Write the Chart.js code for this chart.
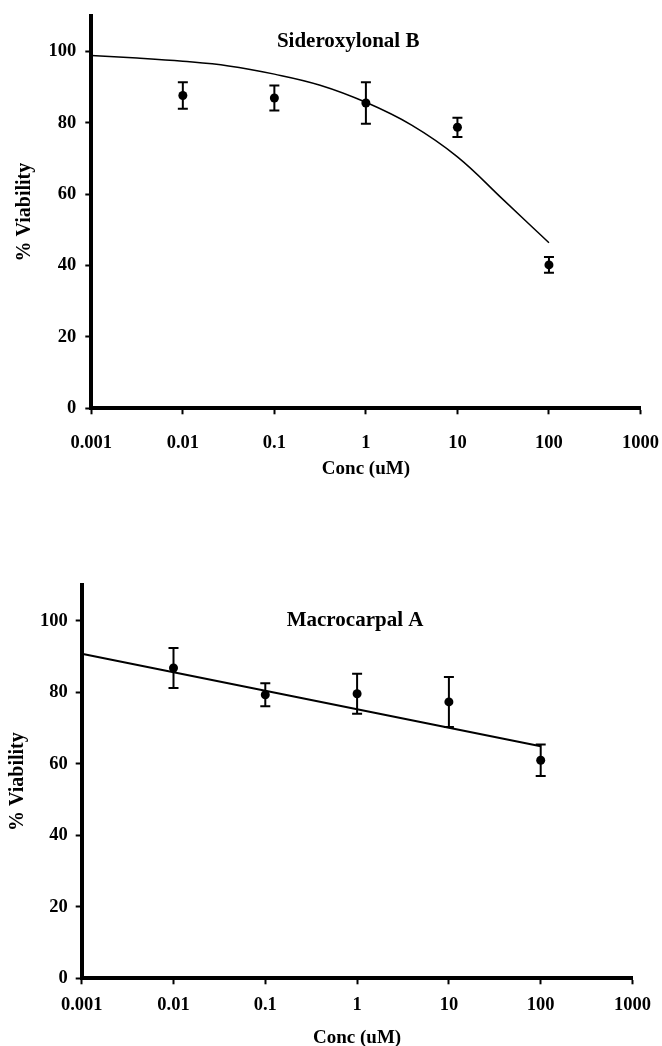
<!DOCTYPE html>
<html><head><meta charset="utf-8">
<script src="https://cdn.jsdelivr.net/npm/chart.js@4.4.1/dist/chart.umd.min.js"></script>
<style>
html,body{margin:0;padding:0;background:#fff;overflow:hidden;width:662px;height:1046px;position:relative}
canvas{position:absolute;left:0}
</style></head><body>
<canvas id="c1" width="662" height="500" style="top:0px"></canvas>
<canvas id="c2" width="662" height="540" style="top:520px"></canvas>
<script>
// ---- data ----
const xTickValues = [0.001, 0.01, 0.1, 1, 10, 100, 1000];
const xTickLabels = ['0.001', '0.01', '0.1', '1', '10', '100', '1000'];
const yTickValues = [0, 20, 40, 60, 80, 100];
const conc = [0.01, 0.1, 1, 10, 100];

const sidTitle = 'Sideroxylonal B';
const sidMean = [87.7, 87.0, 85.6, 78.8, 40.2];
const sidErr  = [3.7, 3.5, 5.8, 2.7, 2.2];
const sidFitX = [0.001, 0.00316, 0.01, 0.0316, 0.1, 0.316, 1, 3.16, 10, 31.6, 100];
const sidFitY = [98.9, 98.2, 97.3, 96.0, 93.7, 90.6, 85.8, 79.4, 70.5, 58.5, 46.4];

const macTitle = 'Macrocarpal A';
const macMean = [86.8, 79.3, 79.6, 77.3, 61.0];
const macErr  = [5.6, 3.2, 5.6, 7.0, 4.4];
const macFitX = [0.001, 100];
const macFitY = [90.8, 64.9];

const xTitle = 'Conc (uM)';
const yTitle = '% Viability';

Chart.defaults.color = '#000';
Chart.defaults.font.family = '"Liberation Serif", "Times New Roman", serif';
Chart.defaults.font.weight = 'bold';

const errorBars = {
  id: 'errorBars',
  afterDatasetsDraw(chart, args, opts) {
    const ds = chart.data.datasets[1];
    const xs = chart.scales.x, ys = chart.scales.y, ctx = chart.ctx;
    ctx.save();
    ctx.strokeStyle = '#000';
    ctx.lineWidth = opts.lineWidth;
    ds.data.forEach((p, i) => {
      const e = ds.errors[i];
      const x = xs.getPixelForValue(p.x);
      const y1 = ys.getPixelForValue(p.y + e), y2 = ys.getPixelForValue(p.y - e);
      const c = opts.cap;
      ctx.beginPath();
      ctx.moveTo(x, y1); ctx.lineTo(x, y2);
      ctx.moveTo(x - c, y1); ctx.lineTo(x + c, y1);
      ctx.moveTo(x - c, y2); ctx.lineTo(x + c, y2);
      ctx.stroke();
    });
    ctx.restore();
  }
};

const innerTitle = {
  id: 'innerTitle',
  afterDraw(chart, args, opts) {
    const ctx = chart.ctx;
    ctx.save();
    ctx.font = 'bold ' + opts.size + 'px "Liberation Serif", serif';
    ctx.fillStyle = '#000';
    ctx.textAlign = 'center';
    ctx.textBaseline = 'alphabetic';
    ctx.fillText(opts.text, chart.scales.x.getPixelForValue(opts.xv), chart.scales.y.getPixelForValue(opts.yv));
    ctx.restore();
  }
};

function makeChart(id, o) {
  const meanPts = conc.map((x, i) => ({x: x, y: o.mean[i]}));
  const fitPts = o.fitX.map((x, i) => ({x: x, y: o.fitY[i]}));
  const ds1 = {data: meanPts, showLine: false, pointRadius: 4.5, pointBackgroundColor: '#000', pointBorderColor: '#000', pointBorderWidth: 0};
  ds1.errors = o.err;
  return new Chart(document.getElementById(id), {
    type: 'scatter',
    data: {
      datasets: [
        {data: fitPts, showLine: true, pointRadius: 0, borderColor: '#000', borderWidth: o.lineW, tension: 0.4, fill: false},
        ds1
      ]
    },
    options: {
      responsive: false, animation: false, devicePixelRatio: 1,
      layout: {padding: o.pad},
      plugins: {
        legend: {display: false}, tooltip: {enabled: false},
        errorBars: {lineWidth: 2, cap: 5},
        innerTitle: {text: o.title, xv: o.titleX, yv: o.titleY, size: 21}
      },
      scales: {
        x: {
          type: 'logarithmic', min: 0.001, max: 1000,
          afterBuildTicks: s => { s.ticks = xTickValues.map(v => ({value: v})); },
          afterFit: s => { s.height = o.xH; s.paddingLeft = 0; s.paddingRight = 0; },
          ticks: {autoSkip: false, maxRotation: 0, padding: o.xPad, font: {size: 18.5, weight: 'bold'},
                  callback: (v, i) => xTickLabels[i]},
          grid: {drawOnChartArea: false, drawTicks: true, tickLength: 6, tickWidth: 2, tickColor: '#000', color: '#000'},
          border: {display: true, color: '#000', width: 4},
          title: {display: true, text: xTitle, font: {size: 19, weight: 'bold'}, padding: {top: 0, bottom: o.xTitlePad}}
        },
        y: {
          type: 'linear', min: 0, max: 110,
          afterBuildTicks: s => { s.ticks = yTickValues.map(v => ({value: v})); },
          afterFit: s => { s.width = o.yW; s.paddingTop = 0; s.paddingBottom = 0; },
          ticks: {padding: o.yPad, font: {size: 18.5, weight: 'bold'}},
          grid: {drawOnChartArea: false, drawTicks: true, tickLength: 6, tickWidth: 2, tickColor: '#000', color: '#000'},
          border: {display: true, color: '#000', width: 4},
          title: {display: true, text: yTitle, font: {size: 20, weight: 'bold'}, padding: {top: o.yTitlePad, bottom: 0}}
        }
      }
    },
    plugins: [errorBars, innerTitle]
  });
}

makeChart('c1', {
  mean: sidMean, err: sidErr, fitX: sidFitX, fitY: sidFitY, lineW: 1.5,
  title: sidTitle, titleX: 0.64, titleY: 101.3,
  pad: {top: 16, right: 21.5, left: 0, bottom: 0},
  xH: 91.7, yW: 91.3, xPad: 18, yPad: 9, xTitlePad: 19.6, yTitlePad: 13
});
makeChart('c2', {
  mean: macMean, err: macErr, fitX: macFitX, fitY: macFitY, lineW: 2,
  title: macTitle, titleX: 0.95, titleY: 98.4,
  pad: {top: 65, right: 29.5, left: 0, bottom: 0},
  xH: 81.7, yW: 81.7, xPad: 10, yPad: 8, xTitlePad: 10.6, yTitlePad: 6
});
</script>
</body></html>
